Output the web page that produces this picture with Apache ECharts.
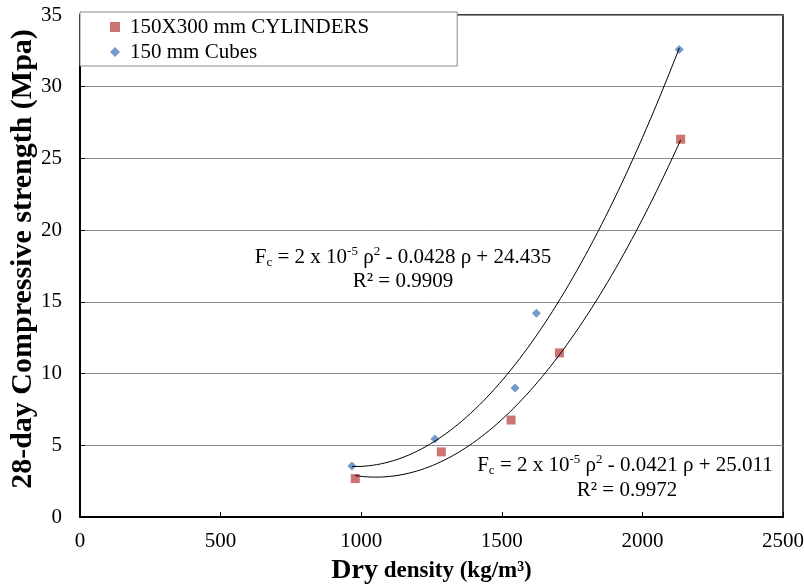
<!DOCTYPE html>
<html>
<head>
<meta charset="utf-8">
<script src="https://cdn.jsdelivr.net/npm/echarts@6/dist/echarts.min.js"></script>
<style>
  html, body { margin: 0; padding: 0; background: #fff; }
  #chart { width: 804px; height: 585px; }
</style>
</head>
<body>
<div id="chart"></div>
<script>
// values
const densityCyl = [979, 1285, 1533, 1705, 2136];
const strengthCyl = [2.68, 4.54, 6.76, 11.44, 26.34];
const densityCube = [967, 1262, 1547, 1623, 2131];
const strengthCube = [3.56, 5.43, 8.99, 14.2, 32.6];
const xTicks = [0, 500, 1000, 1500, 2000, 2500];
const yTicks = [0, 5, 10, 15, 20, 25, 30, 35];

const serif = 'Liberation Serif';
const diamond = 'path://M0,-1L1,0L0,1L-1,0Z';

// second order least squares trendline, like the spreadsheet one
function quadFit(xs, ys) {
	let s = [0, 0, 0, 0, 0], t = [0, 0, 0];
	xs.forEach((x, i) => {
		let u = x / 1000;
		for (let k = 0; k < 5; k++) s[k] += Math.pow(u, k);
		for (let k = 0; k < 3; k++) t[k] += ys[i] * Math.pow(u, k);
	});
	const m = [[s[0], s[1], s[2]], [s[1], s[2], s[3]], [s[2], s[3], s[4]]];
	const det = (a) => a[0][0] * (a[1][1] * a[2][2] - a[1][2] * a[2][1])
		- a[0][1] * (a[1][0] * a[2][2] - a[1][2] * a[2][0])
		+ a[0][2] * (a[1][0] * a[2][1] - a[1][1] * a[2][0]);
	const d = det(m);
	const coef = [0, 1, 2].map((c) => {
		const mc = m.map((row, r) => row.map((v, j) => (j === c ? t[r] : v)));
		return det(mc) / d;
	});
	const lo = Math.min(...xs), hi = Math.max(...xs);
	const pts = [];
	for (let i = 0; i <= 80; i++) {
		const x = lo + (hi - lo) * i / 80;
		const u = x / 1000;
		pts.push([x, coef[0] + coef[1] * u + coef[2] * u * u]);
	}
	return pts;
}

const eqRich = {
	a: { fontFamily: serif, fontSize: 21, color: '#000', lineHeight: 24, verticalAlign: 'middle' },
	s: { fontFamily: serif, fontSize: 13, color: '#000', lineHeight: 13, verticalAlign: 'bottom' },
	p: { fontFamily: serif, fontSize: 13, color: '#000', lineHeight: 13, verticalAlign: 'top' },
};
function eqText(x, y, txt) {
	return {
		type: 'text', x: x, y: y, z: 10,
		style: { text: txt, rich: eqRich, align: 'center', verticalAlign: 'middle' },
	};
}

var myChart = echarts.init(document.getElementById('chart'));
var option = {
	animation: false,
	backgroundColor: '#fff',
	textStyle: { fontFamily: serif, color: '#000' },
	grid: {
		left: 80, right: 21, top: 15, bottom: 68,
		outerBoundsMode: 'none',
		show: true, borderColor: '#000', borderWidth: 1.5, backgroundColor: 'transparent',
	},
	legend: {
		orient: 'vertical',
		left: 80, top: 12,
		padding: [4, 88, 3, 30],
		itemGap: 3,
		itemWidth: 10, itemHeight: 10,
		backgroundColor: '#fff',
		borderColor: '#888', borderWidth: 1,
		textStyle: { fontFamily: serif, fontSize: 21, color: '#000', lineHeight: 22, padding: [0, 0, 0, 5] },
		data: [
			{ name: '150X300 mm CYLINDERS', icon: 'rect' },
			{ name: '150 mm Cubes', icon: diamond },
		],
	},
	xAxis: {
		type: 'value', min: 0, max: 2500, interval: 500,
		axisLine: { lineStyle: { color: '#000', width: 2 } },
		axisTick: { inside: true, length: 5, lineStyle: { color: '#000' } },
		axisLabel: {
			fontFamily: serif, fontSize: 21, color: '#000', margin: 14,
			customValues: xTicks,
			formatter: (v) => String(v),
		},
		splitLine: { show: false },
		name: '{b|Dry}{c| density (kg/m³)}',
		nameLocation: 'middle', nameGap: 40,
		nameMoveOverlap: false,
		nameTextStyle: {
			rich: {
				b: { fontFamily: serif, fontSize: 28, fontWeight: 'bold', color: '#000' },
				c: { fontFamily: serif, fontSize: 23, fontWeight: 'bold', color: '#000' },
			},
		},
	},
	yAxis: {
		type: 'value', min: 0, max: 35, interval: 5,
		axisLine: { lineStyle: { color: '#000', width: 2 } },
		axisTick: { inside: true, length: 5, lineStyle: { color: '#000' } },
		axisLabel: {
			fontFamily: serif, fontSize: 21, color: '#000', margin: 18,
			customValues: yTicks,
			formatter: (v) => String(v),
		},
		splitLine: { show: true, lineStyle: { color: '#8c8c8c', width: 1 } },
		name: '28-day Compressive strength (Mpa)',
		nameLocation: 'middle', nameGap: 42,
		nameMoveOverlap: false,
		nameTextStyle: {
			fontFamily: serif, fontSize: 30, fontWeight: 'bold', color: '#000',
			padding: [0, 0, 0, 14],
		},
	},
	graphic: [
		eqText(403, 257, '{a|F}{s|c}{a| = 2 x 10}{p|-5}{a| ρ}{p|2}{a| - 0.0428 ρ + 24.435}'),
		eqText(403, 281, '{a|R² = 0.9909}'),
		eqText(625, 465, '{a|F}{s|c}{a| = 2 x 10}{p|-5}{a| ρ}{p|2}{a| - 0.0421 ρ + 25.011}'),
		eqText(627, 490, '{a|R² = 0.9972}'),
	],
	series: [
		{
			name: '150X300 mm CYLINDERS',
			type: 'scatter',
			symbol: 'rect', symbolSize: 9,
			itemStyle: { color: '#C0504D' },
			data: densityCyl.map((x, i) => [x, strengthCyl[i]]),
			z: 3,
		},
		{
			name: '150 mm Cubes',
			type: 'scatter',
			symbol: diamond, symbolSize: 9,
			itemStyle: { color: '#4F81BD' },
			data: densityCube.map((x, i) => [x, strengthCube[i]]),
			z: 3,
		},
		{
			name: 'cyl fit',
			type: 'line', showSymbol: false, smooth: false,
			lineStyle: { color: '#000', width: 1 },
			data: quadFit(densityCyl, strengthCyl),
			z: 4,
		},
		{
			name: 'cube fit',
			type: 'line', showSymbol: false, smooth: false,
			lineStyle: { color: '#000', width: 1 },
			data: quadFit(densityCube, strengthCube),
			z: 4,
		},
	],
};
option && myChart.setOption(option);
</script>
</body>
</html>
